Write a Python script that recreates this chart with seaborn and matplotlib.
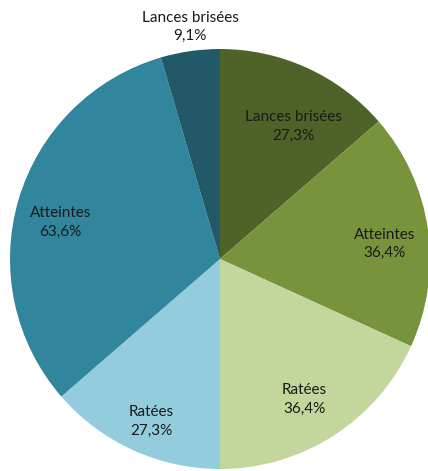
import numpy as np
import seaborn as sns
import matplotlib.pyplot as plt

# two groups of shots, each drawn as one half of the pie
labels = ['Lances brisées', 'Atteintes', 'Ratées', 'Ratées', 'Atteintes', 'Lances brisées']
green_counts = [3, 4, 4]
blue_counts = [3, 7, 1]
colors = ['#4F6228', '#77933C', '#C3D69B', '#93CDDD', '#31859C', '#215968']

# label placement: radius (fraction of pie radius) and angle nudge in degrees
label_r = [0.72, 0.785, 0.78, 0.84, 0.78, 1.114]
label_dang = [-4.4, -3.0, -1.6, 1.6, 3.4, -0.8]

sns.set_style('white')
plt.rcParams['font.family'] = ['Lato', 'DejaVu Sans']

counts = green_counts + blue_counts
pcts = [c / sum(green_counts) * 100 for c in green_counts] + \
       [c / sum(blue_counts) * 100 for c in blue_counts]

fig = plt.figure(figsize=(4.28, 4.71), dpi=100)
ax = fig.add_axes([10 / 428, 2 / 471, 420 / 428, 420 / 471])
wedges, _ = ax.pie(counts, colors=colors, startangle=90, counterclock=False,
                   radius=1, wedgeprops=dict(linewidth=0))
for w, lab, p, r, da in zip(wedges, labels, pcts, label_r, label_dang):
    ang = np.deg2rad((w.theta1 + w.theta2) / 2 + da)
    txt = lab + '\n' + ('%.1f%%' % p).replace('.', ',')
    ax.text(r * np.cos(ang), r * np.sin(ang), txt, ha='center', va='center',
            fontsize=11, color='#1a1a1a', linespacing=1.4)
ax.set_xlim(-1, 1)
ax.set_ylim(-1, 1)
ax.set_aspect('equal')
ax.axis('off')
fig.savefig('out.png', dpi=100)
